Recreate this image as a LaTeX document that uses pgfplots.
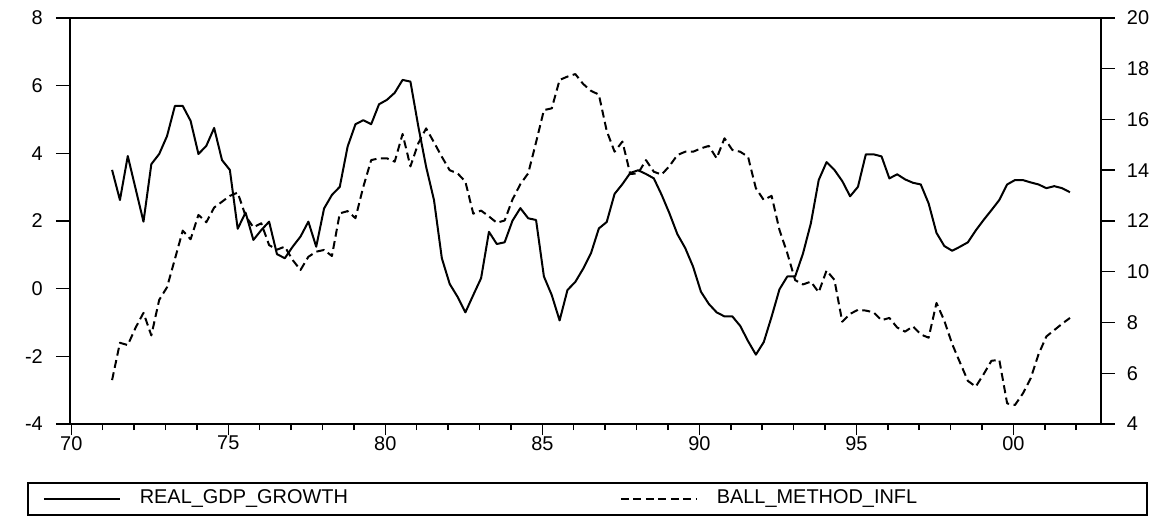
\documentclass[border=0pt]{standalone}
\usepackage{fontspec}
\setmainfont{Liberation Sans}
\usepackage{pgfplots}
\pgfplotsset{compat=1.18}
\usepackage{pgfplotstable}

\pgfplotstableread{
x gdp infl
71.30 3.51 5.73
71.55 2.62 7.20
71.80 3.92 7.11
72.05 2.95 7.80
72.30 1.98 8.38
72.55 3.68 7.49
72.80 3.98 8.89
73.05 4.51 9.39
73.30 5.40 10.50
73.55 5.40 11.62
73.80 4.96 11.28
74.05 3.98 12.24
74.30 4.22 11.95
74.55 4.75 12.53
74.80 3.80 12.76
75.05 3.51 12.99
75.30 1.77 13.12
75.55 2.25 12.20
75.80 1.44 11.75
76.05 1.73 11.91
76.30 1.98 11.05
76.55 1.02 10.87
76.80 0.90 10.99
77.05 1.24 10.46
77.30 1.54 10.07
77.55 1.98 10.59
77.80 1.24 10.79
78.05 2.37 10.86
78.30 2.77 10.62
78.55 3.01 12.30
78.80 4.20 12.39
79.05 4.86 12.11
79.30 4.98 13.35
79.55 4.86 14.40
79.80 5.45 14.47
80.05 5.58 14.47
80.30 5.79 14.34
80.55 6.17 15.43
80.80 6.12 14.15
81.05 4.80 15.06
81.30 3.60 15.65
81.55 2.62 15.10
81.80 0.90 14.53
82.05 0.14 14.00
82.30 -0.24 13.88
82.55 -0.70 13.55
82.80 -0.19 12.29
83.05 0.31 12.41
83.30 1.68 12.18
83.55 1.32 11.93
83.80 1.37 12.02
84.05 2.01 12.85
84.30 2.38 13.45
84.55 2.08 13.88
84.80 2.03 15.10
85.05 0.36 16.37
85.30 -0.19 16.44
85.55 -0.94 17.56
85.80 -0.04 17.69
86.05 0.20 17.79
86.30 0.59 17.40
86.55 1.05 17.13
86.80 1.78 16.98
87.05 1.97 15.55
87.30 2.80 14.73
87.55 3.09 15.13
87.80 3.42 13.85
88.05 3.50 13.88
88.30 3.39 14.40
88.55 3.26 13.94
88.80 2.77 13.83
89.05 2.22 14.17
89.30 1.61 14.60
89.55 1.20 14.73
89.80 0.65 14.73
90.05 -0.09 14.86
90.30 -0.45 14.96
90.55 -0.70 14.47
90.80 -0.82 15.26
91.05 -0.82 14.80
91.30 -1.10 14.73
91.55 -1.55 14.53
91.80 -1.95 13.29
92.05 -1.58 12.83
92.30 -0.83 12.99
92.55 -0.02 11.65
92.80 0.36 10.73
93.05 0.36 9.67
93.30 1.04 9.50
93.55 1.93 9.61
93.80 3.21 9.19
94.05 3.74 10.05
94.30 3.51 9.68
94.55 3.18 8.03
94.80 2.73 8.34
95.05 3.01 8.50
95.30 3.97 8.47
95.55 3.97 8.40
95.80 3.91 8.09
96.05 3.26 8.18
96.30 3.38 7.80
96.55 3.23 7.64
96.80 3.13 7.85
97.05 3.08 7.53
97.30 2.52 7.40
97.55 1.65 8.77
97.80 1.26 8.07
98.05 1.12 7.15
98.30 1.24 6.42
98.55 1.37 5.70
98.80 1.72 5.47
99.05 2.03 5.96
99.30 2.32 6.49
99.55 2.62 6.53
99.80 3.08 4.81
100.05 3.21 4.75
100.30 3.21 5.20
100.55 3.14 5.80
100.80 3.08 6.75
101.05 2.97 7.45
101.30 3.03 7.70
101.55 2.97 7.95
101.80 2.85 8.18
}\datatable

\pgfplotsset{
  base/.style={
    scale only axis, width=1030.7bp, height=406bp,
    xmin=69.96, xmax=102.78,
    axis line style={line width=1.6bp, black},
    every tick/.style={black, line width=1.5bp},
    tick align=outside,
    tick label style={font=\fontsize{20}{24}\selectfont},
  },
}

\begin{document}
\begin{tikzpicture}
\path[use as bounding box] (-70bp,-92bp) rectangle (1090bp,424bp);
% x ticks and frame
\begin{axis}[base,
  ymin=-4, ymax=8, ytick=\empty,
  xtick={70,75,80,85,90,95,100},
  xticklabels={70,75,80,85,90,95,00},
  minor xtick={71,72,73,74,76,77,78,79,81,82,83,84,86,87,88,89,91,92,93,94,96,97,98,99,101,102},
  xtick pos=left,
  major tick length=11bp, minor tick length=6bp,
  xticklabel style={inner sep=1bp},
]
\end{axis}
% left axis
\begin{axis}[base,
  ymin=-4, ymax=8,
  xtick=\empty,
  ytick={-4,-2,0,2,4,6,8},
  yticklabels={-4,-2,0,2,4,6,8},
  ytick pos=left,
  major tick length=14bp,
  yticklabel style={anchor=east, inner sep=0pt, xshift=-13bp},
]
\addplot[black, line width=2bp, line join=round] table[x=x, y=gdp] {\datatable};
\end{axis}
% right axis
\begin{axis}[base,
  ymin=4, ymax=20,
  xtick=\empty,
  ytick={4,6,8,10,12,14,16,18,20},
  yticklabels={4,6,8,10,12,14,16,18,20},
  ytick pos=right, yticklabel pos=right,
  major tick length=14bp,
  yticklabel style={anchor=west, inner sep=0pt, xshift=12bp},
  legend image code/.code={\draw[#1] (0bp,0bp) -- (76bp,0bp);},
  legend columns=2,
  legend style={
    at={(0,0)}, anchor=north west, xshift=-43bp, yshift=-58bp,
    draw=black, line width=1.6bp,
    inner xsep=15bp, inner ysep=6.5bp,
    font=\fontsize{20}{24}\selectfont,
    cells={anchor=west},
    nodes={inner sep=0pt, text height=14.5bp, text depth=4.5bp},
    /tikz/every even column/.append style={column sep=65bp, nodes={text width=415bp}},
    /tikz/every odd column/.append style={column sep=19bp},
  },
]
\addlegendimage{black, line width=2bp}
\addlegendentry{REAL\_GDP\_GROWTH}
\addplot[black, line width=2bp, dash pattern=on 8bp off 4.5bp, line join=round] table[x=x, y=infl] {\datatable};
\addlegendentry{BALL\_METHOD\_INFL}
\end{axis}
\end{tikzpicture}
\end{document}
